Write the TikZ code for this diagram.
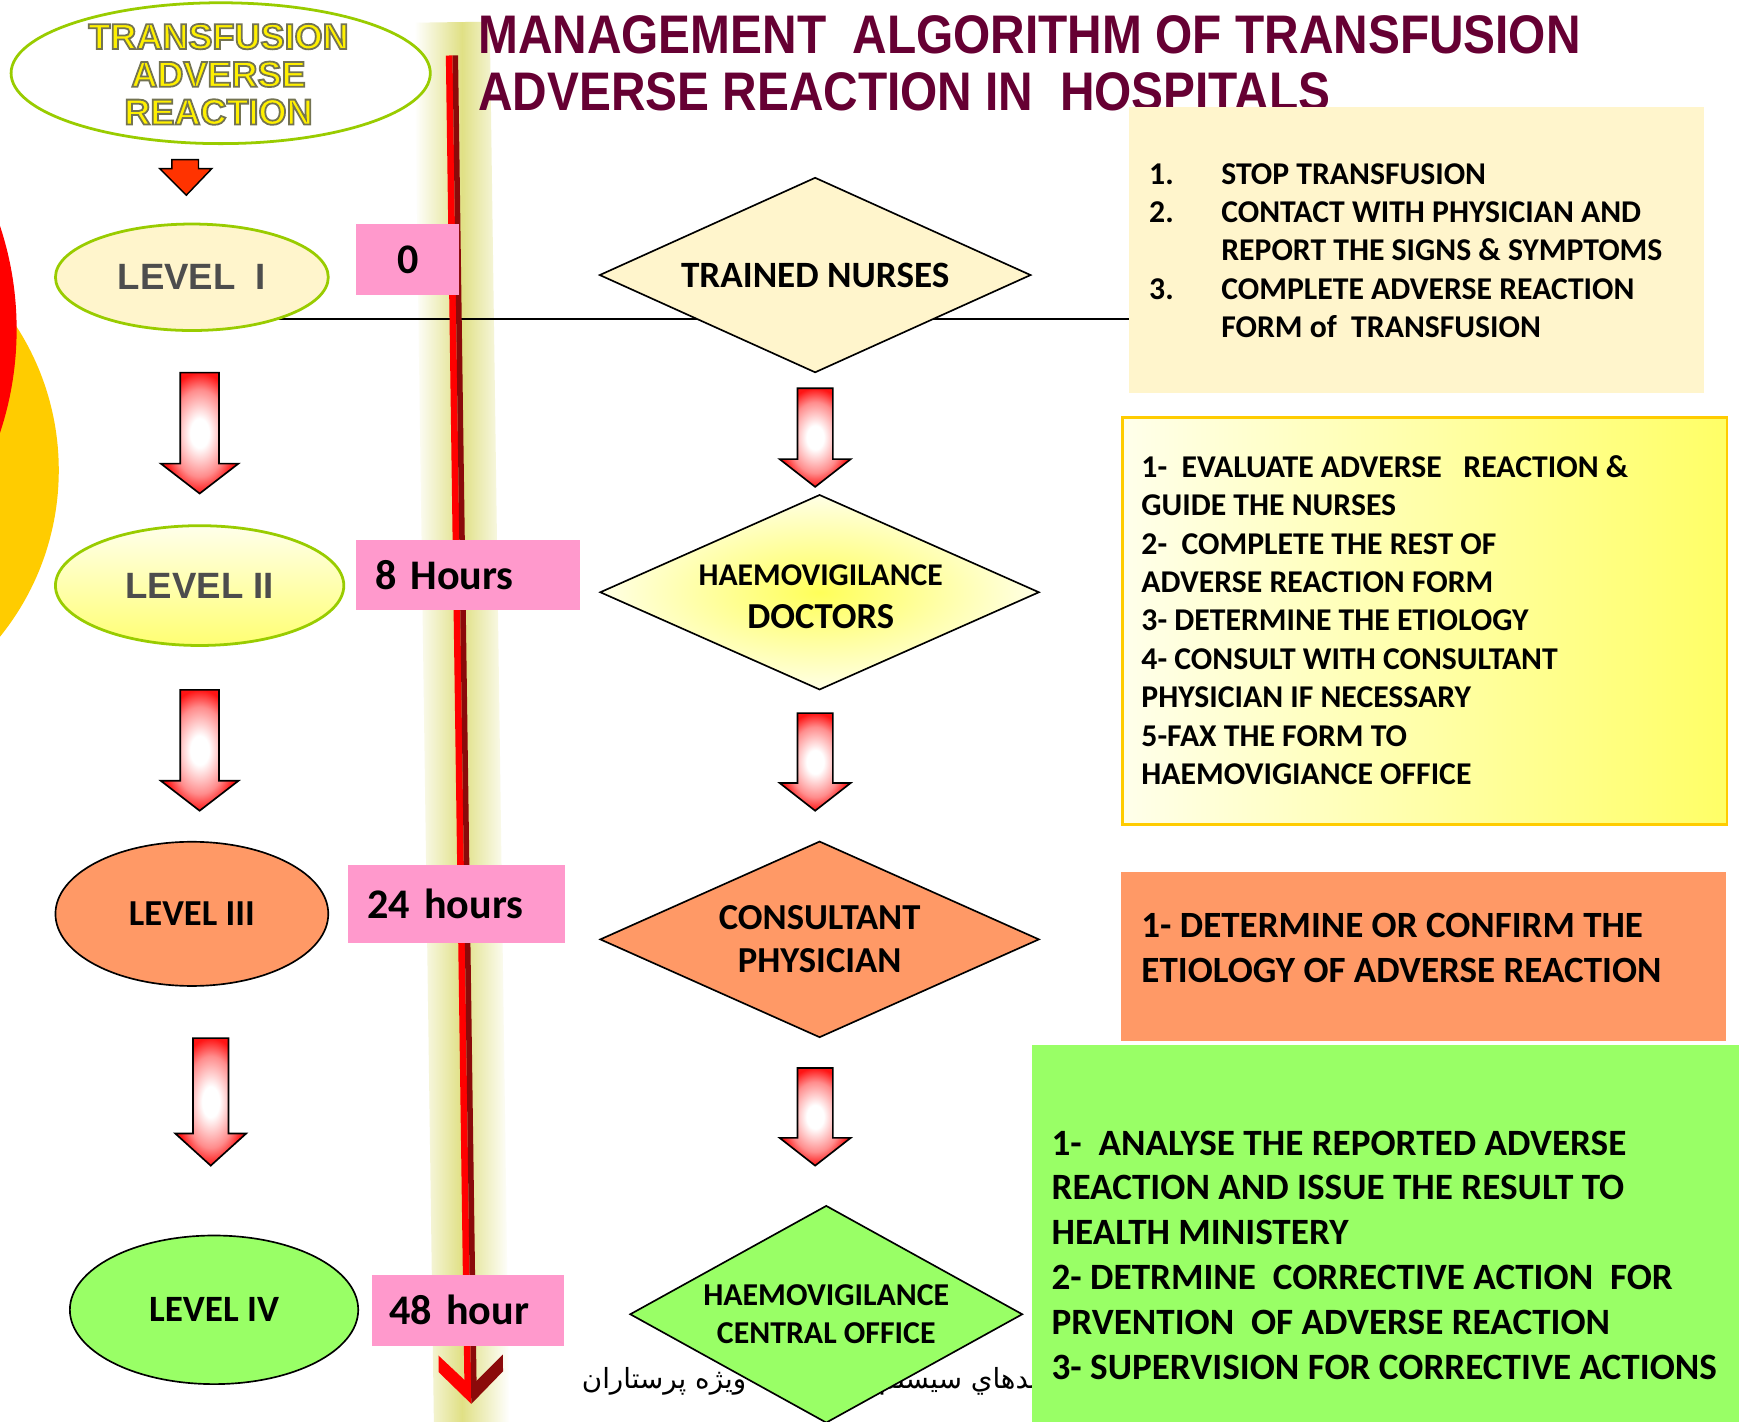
\documentclass[tikz,border=0pt]{standalone}
\usepackage{fontspec}
\setmainfont{Carlito}
\newfontfamily\arialfont{Liberation Sans}
\newfontfamily\titlefont{Liberation Sans}[FakeStretch=0.88]
\newfontfamily\arabicfont[Script=Arabic]{DejaVu Sans}
\TeXXeTstate=1
\usetikzlibrary{shapes.geometric}
\definecolor{cream}{HTML}{FFF5CC}
\definecolor{pinkb}{HTML}{FF99CC}
\definecolor{orangeb}{HTML}{FF9966}
\definecolor{greenb}{HTML}{99FF66}
\definecolor{oliveg}{HTML}{99CC00}
\definecolor{titlecol}{HTML}{660033}
\definecolor{glowcol}{HTML}{E0E085}
\definecolor{darkredc}{HTML}{8B0A0A}
\definecolor{goldb}{HTML}{FFCC00}
\definecolor{circY}{HTML}{FFCC00}
\definecolor{smallarr}{HTML}{FF3300}
\definecolor{lvlgray}{HTML}{4D4D4D}
\definecolor{ttyellow}{HTML}{FFF000}
\pgfdeclareradialshading{redglow}{\pgfpoint{0bp}{0bp}}{color(0bp)=(white); color(6bp)=(white); color(18bp)=(red!45!white); color(25bp)=(red!92!white); color(50bp)=(red)}
\newcommand\blockarr[6]{%
  \path[draw=black, line width=1.5pt, shade, shading=redglow]
    ({#1-#5},#2) -- ({#1+#5},#2) -- ({#1+#5},#3) -- ({#1+#6},#3) -- (#1,#4)
    -- ({#1-#6},#3) -- ({#1-#5},#3) -- cycle;}
\newcommand\outlinedtext[1]{\special{pdf:literal direct 0.45 0.45 0.32 RG 1.6 w 2 Tr}#1\special{pdf:literal direct 0 Tr}}
\tikzset{
  ttext/.style={font=\arialfont\bfseries\fontsize{32.5}{34}\selectfont, align=center, inner sep=0},
  lvlbox/.style={ellipse, inner sep=0},
  dia/.style={diamond, draw=black, line width=1.5pt, inner sep=0, align=center},
  pinkbox/.style={rectangle, fill=pinkb, inner sep=0, font=\bfseries\fontsize{38}{40}\selectfont},
  listtext/.style={anchor=base west, inner sep=0, align=left},
  infobox/.style={rectangle, anchor=north west, inner sep=0}
}
\begin{document}
\begin{tikzpicture}[x=1pt, y=-1pt]
\useasboundingbox (0,0) rectangle (1568,1282);
\fill[white] (0,0) rectangle (1568,1282);
\clip (0,0) rectangle (1568,1282);
% decorative circles at left edge
\fill[circY] (-186,424) circle (239pt);
\fill[red] (-281,297) circle (296pt);
% glow behind time line
\begin{scope}[shift={(408,50)}, rotate=0.8]
  \shade[left color=white, right color=white, middle color=glowcol] (-34,-30) rectangle (34,1240);
\end{scope}
% horizontal line
\coordinate (hl) at (173,288);
\coordinate (hr) at (1018,288);
\draw[line width=1.8pt] (hl) -- (hr);
% time line arrow
\begin{scope}[shift={(408,50)}, rotate=0.8]
  \fill[red] (-6,0) rectangle (0,1206);
  \fill[darkredc] (0,0) rectangle (5,1206);
  \fill[red] (-29,1172) -- (0,1200) -- (0,1216) -- (-29,1187) -- cycle;
  \fill[darkredc] (0,1200) -- (29,1172) -- (29,1187) -- (0,1216) -- cycle;
\end{scope}
% title
\node[anchor=base west, inner sep=0, text=titlecol, font=\titlefont\bfseries\fontsize{49}{52}\selectfont] (title1) at (431,48) {MANAGEMENT\ \ ALGORITHM OF TRANSFUSION};
\node[anchor=base west, inner sep=0, text=titlecol, font=\titlefont\bfseries\fontsize{49}{52}\selectfont] (title2) at (431,100) {ADVERSE REACTION IN\ \ HOSPITALS};
% persian text
\node[anchor=base east, inner sep=0, font=\arabicfont\fontsize{25}{28}\selectfont] (fa1) at (673,1252) {\beginR ويژه پرستاران\endR};
\node[anchor=base east, inner sep=0, font=\arabicfont\fontsize{25}{28}\selectfont] (fa2) at (936,1252) {\beginR بدهاي سيستم\endR};
% right info boxes
\node[infobox, fill=cream, minimum width=518pt, minimum height=258pt] (box1) at (1018,96) {};
\node[listtext, font=\bfseries\fontsize{28.6}{34.6}\selectfont] (t1) at (1036,166) {\begin{tabular}[t]{@{}p{65pt}@{}l@{}}
1. & STOP TRANSFUSION\\
2. & CONTACT WITH PHYSICIAN AND\\
   & REPORT THE SIGNS \& SYMPTOMS\\
3. & COMPLETE ADVERSE REACTION\\
   & FORM of\ \ TRANSFUSION
\end{tabular}};
\node[infobox, left color=yellow!8!white, right color=yellow!60!white, draw=goldb, line width=2.5pt, minimum width=545pt, minimum height=367pt] (box2) at (1011,375) {};
\node[listtext, font=\bfseries\fontsize{28.6}{34.6}\selectfont] (t2) at (1029,430.5) {\begin{tabular}[t]{@{}l@{}}
1-\ \ EVALUATE ADVERSE\ \ \ REACTION \&\\
GUIDE THE NURSES\\
2-\ \ COMPLETE THE REST OF\\
ADVERSE REACTION FORM\\
3- DETERMINE THE ETIOLOGY\\
4- CONSULT WITH CONSULTANT\\
PHYSICIAN IF NECESSARY\\
5-FAX THE FORM TO\\
HAEMOVIGIANCE OFFICE
\end{tabular}};
\node[infobox, fill=orangeb, minimum width=545pt, minimum height=152pt] (box3) at (1011,786) {};
\node[listtext, font=\bfseries\fontsize{33.4}{40}\selectfont] (t3) at (1029,845.5) {\begin{tabular}[t]{@{}l@{}}
1- DETERMINE OR CONFIRM THE\\
ETIOLOGY OF ADVERSE REACTION
\end{tabular}};
\node[infobox, fill=greenb, minimum width=638pt, minimum height=340pt] (box4) at (930,942) {};
\node[listtext, font=\bfseries\fontsize{33.5}{40.4}\selectfont] (t4) at (948,1041.5) {\begin{tabular}[t]{@{}l@{}}
1-\ \ ANALYSE THE REPORTED ADVERSE\\
REACTION AND ISSUE THE RESULT TO\\
HEALTH MINISTERY\\
2- DETRMINE\ \ CORRECTIVE ACTION\ \ FOR\\
PRVENTION\ \ OF ADVERSE REACTION\\
3- SUPERVISION FOR CORRECTIVE ACTIONS
\end{tabular}};
% top ellipse
\node[ellipse, draw=oliveg, line width=2.5pt, fill=white, minimum width=378pt, minimum height=127pt, inner sep=0] (top) at (199,66) {};
\node[ttext, text=ttyellow] (ttl) at (197,67) {\outlinedtext{TRANSFUSION}\\\outlinedtext{ADVERSE}\\\outlinedtext{REACTION}};
\filldraw[fill=smallarr, draw=black, line width=1.3pt] (155,144) -- (179,144) -- (179,152) -- (191,152) -- (168,176) -- (144,152) -- (155,152) -- cycle;
% levels
\node[lvlbox, fill=cream, draw=oliveg, line width=2.5pt, minimum width=246pt, minimum height=96pt, text=lvlgray, font=\arialfont\bfseries\fontsize{33}{36}\selectfont] (lvl1) at (173,250) {LEVEL\ \ I};
\node[lvlbox, top color=yellow!8!white, bottom color=yellow!55!white, draw=oliveg, line width=2.5pt, minimum width=260pt, minimum height=108pt, text=lvlgray, font=\arialfont\bfseries\fontsize{33}{36}\selectfont] (lvl2) at (180,528) {LEVEL II};
\node[lvlbox, fill=orangeb, draw=black, line width=1.5pt, minimum width=246pt, minimum height=130pt, font=\bfseries\fontsize{33}{36}\selectfont] (lvl3) at (173,824) {LEVEL III};
\node[lvlbox, fill=greenb, draw=black, line width=1.5pt, minimum width=260pt, minimum height=134pt, font=\bfseries\fontsize{33.5}{36}\selectfont] (lvl4) at (193,1181) {LEVEL IV};
% diamonds
\node[dia, fill=cream, aspect=2.2, minimum width=389pt, minimum height=176pt, font=\bfseries\fontsize{33.5}{40}\selectfont] (d1) at (735,248) {TRAINED NURSES};
\node[dia, inner color=yellow!65!white, outer color=yellow!10!white, aspect=2.25, minimum width=396pt, minimum height=176pt] (d2) at (739,534) {};
\node[inner sep=0, align=center, font=\bfseries\fontsize{28.5}{39}\selectfont] (d2t) at (740,538) {HAEMOVIGILANCE\\{\fontsize{33}{39}\selectfont DOCTORS}};
\node[dia, fill=orangeb, aspect=2.24, minimum width=396pt, minimum height=177pt, font=\bfseries\fontsize{33}{39}\selectfont] (d3) at (739,847) {CONSULTANT\\PHYSICIAN};
\node[dia, fill=greenb, aspect=1.8, minimum width=354pt, minimum height=196pt, font=\bfseries\fontsize{28.7}{34}\selectfont] (d4) at (745,1185) {HAEMOVIGILANCE\\CENTRAL OFFICE};
% time labels
\node[pinkbox, anchor=north west, minimum width=93pt, minimum height=64pt] (p0) at (321,202) {0};
\node[pinkbox, anchor=north west, minimum height=63pt, text width=168pt, inner xsep=17pt, align=left] (p8) at (321,487) {8 Hours};
\node[pinkbox, anchor=north west, minimum height=70pt, text width=161pt, inner xsep=17pt, align=left] (p24) at (314,780) {24 hours};
\node[pinkbox, anchor=north west, minimum height=64pt, text width=141pt, inner xsep=16pt, align=left] (p48) at (335,1149) {48 hour};
% block arrows
\blockarr{180}{336}{418}{445}{17.5}{35}
\blockarr{180}{622}{704}{731}{17.5}{35}
\blockarr{190}{936}{1022}{1051}{16}{32}
\blockarr{735}{350}{414}{439}{16}{32}
\blockarr{735}{643}{706}{731}{16}{32}
\blockarr{735}{963}{1026}{1051}{16}{32}
\end{tikzpicture}
\end{document}
